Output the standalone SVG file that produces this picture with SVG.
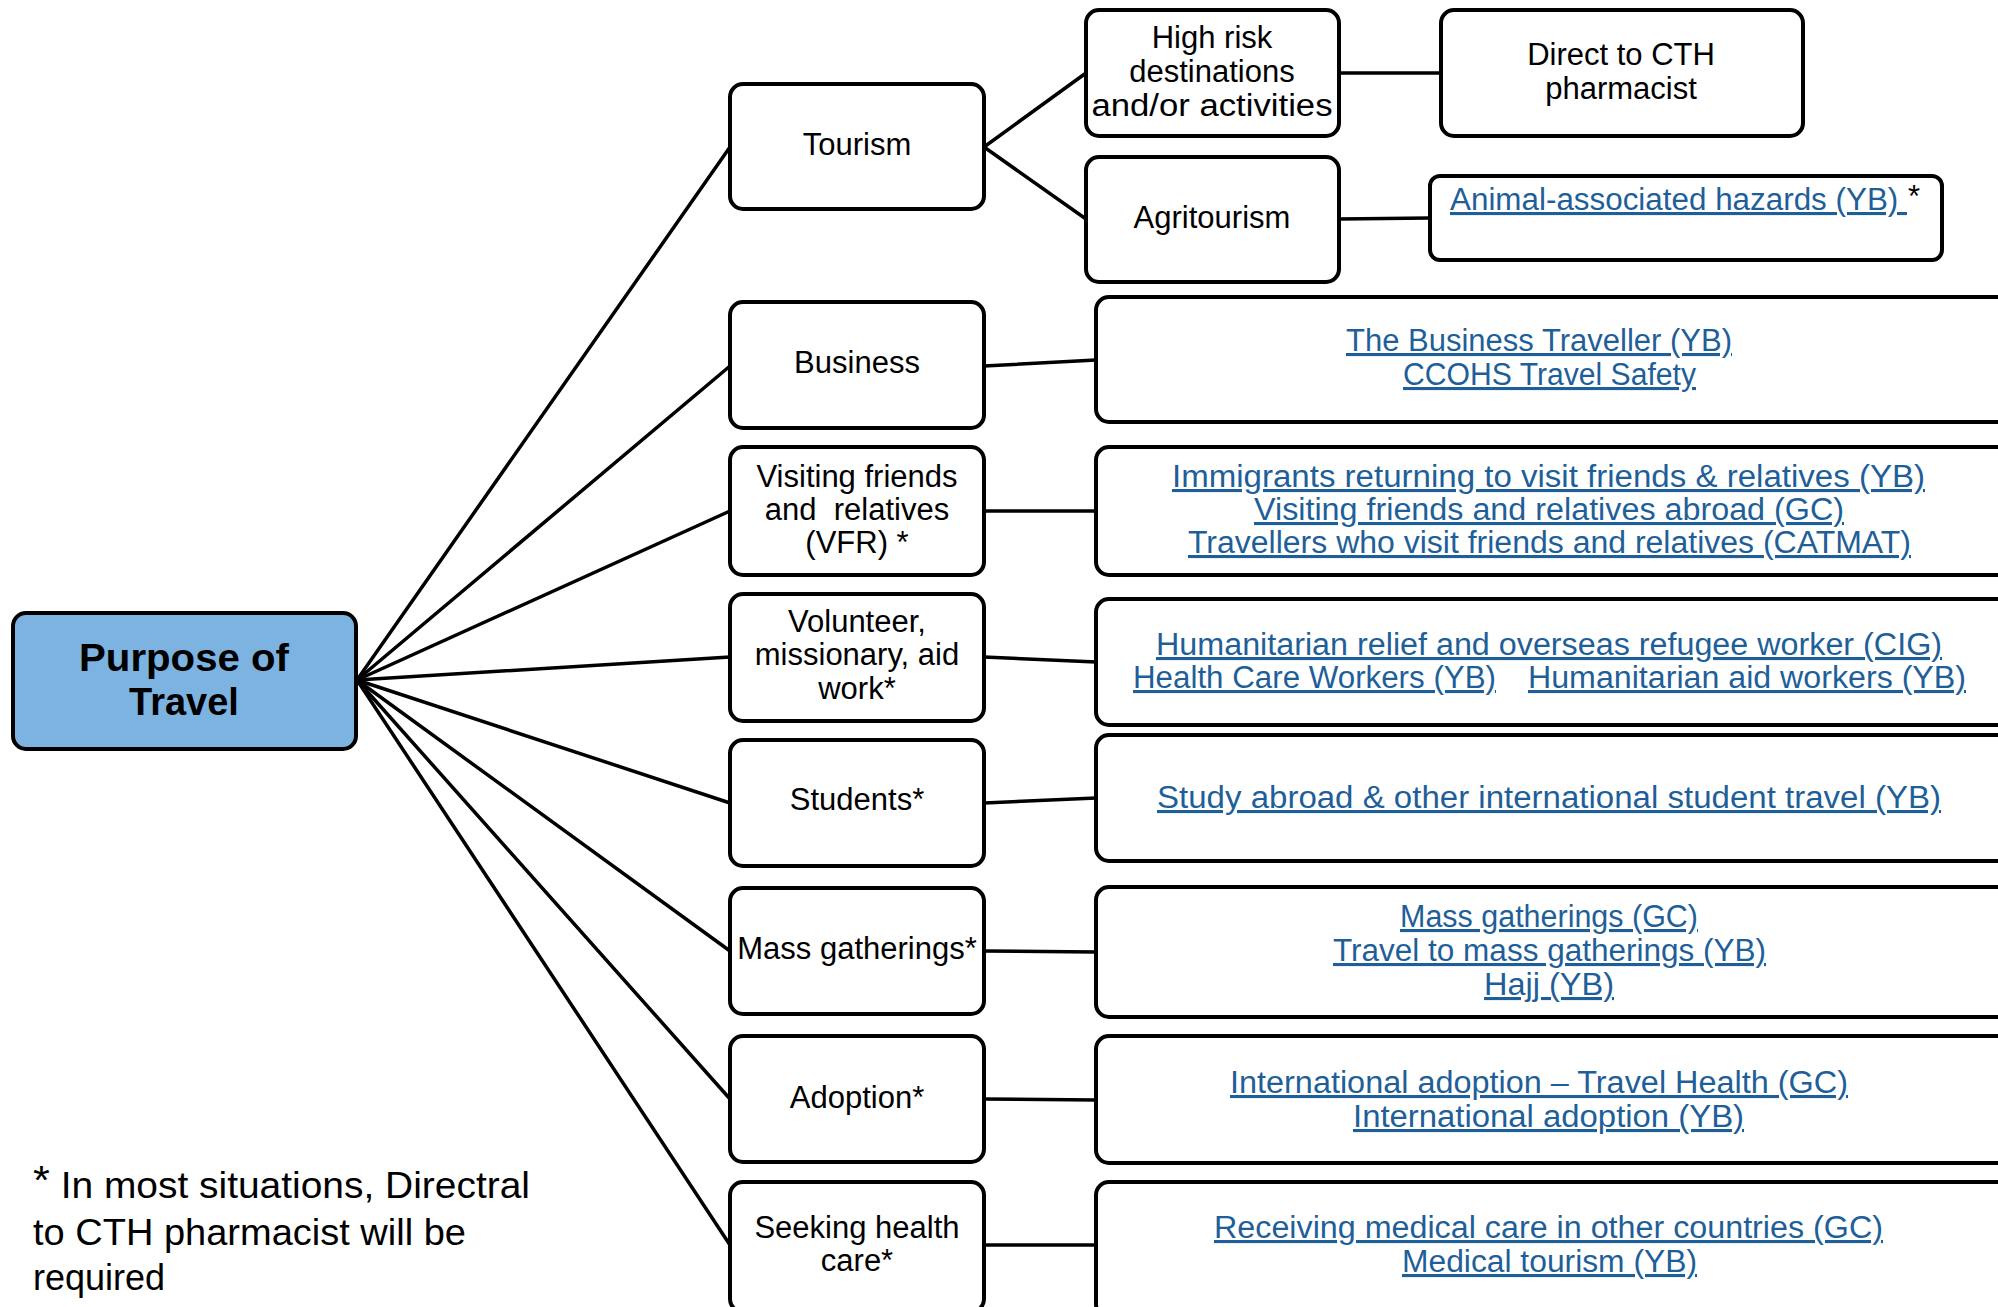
<svg xmlns="http://www.w3.org/2000/svg" width="1998" height="1307" viewBox="0 0 1998 1307">
  <style>
    .box { fill: #ffffff; stroke: #000000; stroke-width: 4; }
    .root { fill: #7db3e0; }
    .edge { stroke: #000000; stroke-width: 3.5; fill: none; stroke-linecap: round; }
    text { font-family: "Liberation Sans", Arial, sans-serif; fill: #000000; }
    .lbl { font-size: 31px; text-anchor: middle; }
    .lnk { font-size: 31px; fill: #1f5f99; text-decoration: underline; }
    .title { font-size: 38px; font-weight: bold; text-anchor: middle; }
    .note { font-size: 36px; }
  </style>

  <rect x="0" y="0" width="1998" height="1307" fill="#ffffff"/>

  <!-- connectors -->
  <g id="connectors">
    <line class="edge" x1="357" y1="680" x2="730" y2="147"/>
    <line class="edge" x1="357" y1="680" x2="730" y2="366"/>
    <line class="edge" x1="357" y1="680" x2="730" y2="511"/>
    <line class="edge" x1="357" y1="680" x2="730" y2="657"/>
    <line class="edge" x1="357" y1="680" x2="730" y2="803"/>
    <line class="edge" x1="357" y1="680" x2="730" y2="951"/>
    <line class="edge" x1="357" y1="680" x2="730" y2="1099"/>
    <line class="edge" x1="357" y1="680" x2="730" y2="1245"/>
    <line class="edge" x1="984" y1="147" x2="1086" y2="73"/>
    <line class="edge" x1="984" y1="147" x2="1086" y2="219"/>
    <line class="edge" x1="1339" y1="73" x2="1441" y2="73"/>
    <line class="edge" x1="1339" y1="219" x2="1430" y2="218"/>
    <line class="edge" x1="984" y1="366" x2="1096" y2="360"/>
    <line class="edge" x1="984" y1="511" x2="1096" y2="511"/>
    <line class="edge" x1="984" y1="657" x2="1096" y2="662"/>
    <line class="edge" x1="984" y1="803" x2="1096" y2="798"/>
    <line class="edge" x1="984" y1="951" x2="1096" y2="952"/>
    <line class="edge" x1="984" y1="1099" x2="1096" y2="1100"/>
    <line class="edge" x1="984" y1="1245" x2="1096" y2="1245"/>
  </g>

  <!-- root -->
  <g id="purpose">
    <rect class="box root" x="13" y="613" width="343" height="136" rx="13"/>
    <text class="title" x="184" y="671" textLength="210" lengthAdjust="spacingAndGlyphs">Purpose of</text>
    <text class="title" x="184" y="715">Travel</text>
  </g>

  <!-- purposes -->
  <g id="tourism">
    <rect class="box" x="730" y="84" width="254" height="125" rx="13"/>
    <text class="lbl" x="857" y="155">Tourism</text>
  </g>
  <g id="business">
    <rect class="box" x="730" y="302" width="254" height="126" rx="13"/>
    <text class="lbl" x="857" y="373">Business</text>
  </g>
  <g id="vfr">
    <rect class="box" x="730" y="447" width="254" height="128" rx="13"/>
    <text class="lbl" x="857" y="487">Visiting friends</text>
    <text class="lbl" x="857" y="520" xml:space="preserve">and  relatives</text>
    <text class="lbl" x="857" y="553">(VFR) *</text>
  </g>
  <g id="volunteer">
    <rect class="box" x="730" y="594" width="254" height="127" rx="13"/>
    <text class="lbl" x="857" y="632">Volunteer,</text>
    <text class="lbl" x="857" y="665">missionary, aid</text>
    <text class="lbl" x="857" y="699">work*</text>
  </g>
  <g id="students">
    <rect class="box" x="730" y="740" width="254" height="126" rx="13"/>
    <text class="lbl" x="857" y="810">Students*</text>
  </g>
  <g id="mass">
    <rect class="box" x="730" y="888" width="254" height="126" rx="13"/>
    <text class="lbl" x="857" y="959">Mass gatherings*</text>
  </g>
  <g id="adoption">
    <rect class="box" x="730" y="1036" width="254" height="126" rx="13"/>
    <text class="lbl" x="857" y="1108">Adoption*</text>
  </g>
  <g id="health">
    <rect class="box" x="730" y="1182" width="254" height="130" rx="13"/>
    <text class="lbl" x="857" y="1238">Seeking health</text>
    <text class="lbl" x="857" y="1271">care*</text>
  </g>

  <!-- tourism branches -->
  <g id="highrisk">
    <rect class="box" x="1086" y="10" width="253" height="126" rx="13"/>
    <text class="lbl" x="1212" y="48">High risk</text>
    <text class="lbl" x="1212" y="82">destinations</text>
    <text class="lbl" x="1212" y="116" textLength="241" lengthAdjust="spacingAndGlyphs">and/or activities</text>
  </g>
  <g id="agritourism">
    <rect class="box" x="1086" y="157" width="253" height="125" rx="13"/>
    <text class="lbl" x="1212" y="228">Agritourism</text>
  </g>
  <g id="cth">
    <rect class="box" x="1441" y="10" width="362" height="126" rx="13"/>
    <text class="lbl" x="1621" y="65">Direct to CTH</text>
    <text class="lbl" x="1621" y="99">pharmacist</text>
  </g>
  <g id="animal">
    <rect class="box" x="1430" y="176" width="512" height="84" rx="10"/>
    <text class="lnk" x="1450" y="210" textLength="457" lengthAdjust="spacingAndGlyphs">Animal-associated hazards (YB)&#160;</text>
    <text class="lbl" x="1914" y="207">*</text>
  </g>

  <!-- resources -->
  <g id="res-business">
    <rect class="box" x="1096" y="297" width="914" height="125" rx="13"/>
    <text class="lnk" x="1346" y="351" textLength="386" lengthAdjust="spacingAndGlyphs">The Business Traveller (YB)</text>
    <text class="lnk" x="1403" y="385" textLength="293" lengthAdjust="spacingAndGlyphs">CCOHS Travel Safety</text>
  </g>
  <g id="res-vfr">
    <rect class="box" x="1096" y="447" width="914" height="128" rx="13"/>
    <text class="lnk" x="1172" y="487" textLength="753" lengthAdjust="spacingAndGlyphs">Immigrants returning to visit friends &amp; relatives (YB)</text>
    <text class="lnk" x="1254" y="520" textLength="590" lengthAdjust="spacingAndGlyphs">Visiting friends and relatives abroad (GC)</text>
    <text class="lnk" x="1188" y="553" textLength="723" lengthAdjust="spacingAndGlyphs">Travellers who visit friends and relatives (CATMAT)</text>
  </g>
  <g id="res-volunteer">
    <rect class="box" x="1096" y="599" width="914" height="126" rx="13"/>
    <text class="lnk" x="1156" y="655" textLength="786" lengthAdjust="spacingAndGlyphs">Humanitarian relief and overseas refugee worker (CIG)</text>
    <text class="lnk" x="1133" y="688" textLength="363" lengthAdjust="spacingAndGlyphs">Health Care Workers (YB)</text>
    <text class="lnk" x="1528" y="688" textLength="438" lengthAdjust="spacingAndGlyphs">Humanitarian aid workers (YB)</text>
  </g>
  <g id="res-students">
    <rect class="box" x="1096" y="735" width="914" height="126" rx="13"/>
    <text class="lnk" x="1157" y="808" textLength="784" lengthAdjust="spacingAndGlyphs">Study abroad &amp; other international student travel (YB)</text>
  </g>
  <g id="res-mass">
    <rect class="box" x="1096" y="887" width="914" height="130" rx="13"/>
    <text class="lnk" x="1400" y="927" textLength="298" lengthAdjust="spacingAndGlyphs">Mass gatherings (GC)</text>
    <text class="lnk" x="1333" y="961" textLength="433" lengthAdjust="spacingAndGlyphs">Travel to mass gatherings (YB)</text>
    <text class="lnk" x="1484" y="995" textLength="130" lengthAdjust="spacingAndGlyphs">Hajj (YB)</text>
  </g>
  <g id="res-adoption">
    <rect class="box" x="1096" y="1036" width="914" height="127" rx="13"/>
    <text class="lnk" x="1230" y="1093" textLength="618" lengthAdjust="spacingAndGlyphs">International adoption – Travel Health (GC)</text>
    <text class="lnk" x="1353" y="1127" textLength="391" lengthAdjust="spacingAndGlyphs">International adoption (YB)</text>
  </g>
  <g id="res-health">
    <rect class="box" x="1096" y="1182" width="914" height="135" rx="13"/>
    <text class="lnk" x="1214" y="1238" textLength="669" lengthAdjust="spacingAndGlyphs">Receiving medical care in other countries (GC)</text>
    <text class="lnk" x="1402" y="1272" textLength="295" lengthAdjust="spacingAndGlyphs">Medical tourism (YB)</text>
  </g>

  <!-- footnote -->
  <g id="footnote">
    <text class="note" x="33" y="1198" textLength="497" lengthAdjust="spacingAndGlyphs"><tspan font-size="40" dy="-4">*</tspan><tspan dy="4"> In most situations, Directral</tspan></text>
    <text class="note" x="33" y="1245" textLength="433" lengthAdjust="spacingAndGlyphs">to CTH pharmacist will be</text>
    <text class="note" x="33" y="1290">required</text>
  </g>
</svg>
